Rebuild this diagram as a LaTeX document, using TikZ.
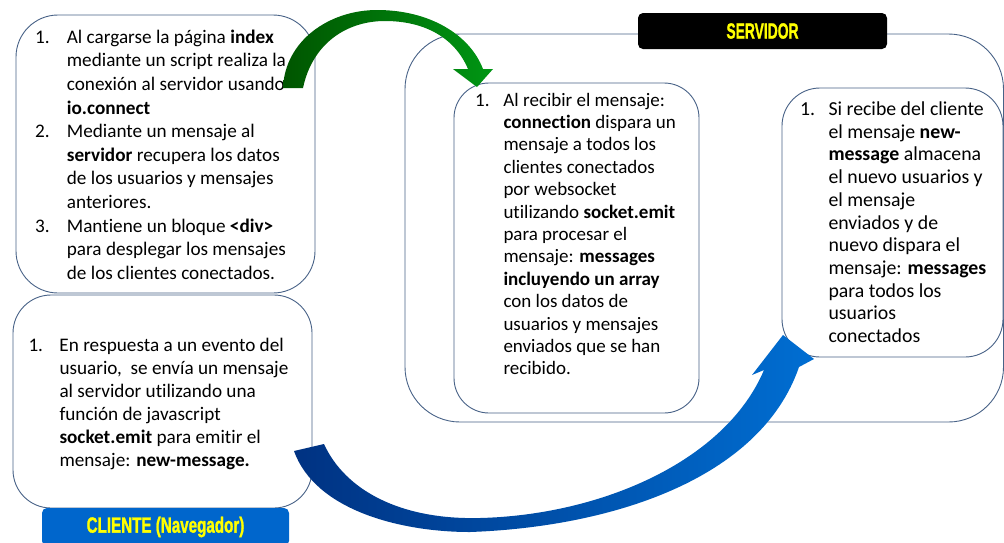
\documentclass[tikz,border=0pt]{standalone}
\usepackage{fontspec}
\usepackage{graphicx}
\setmainfont{Carlito}[Ligatures=NoCommon]
\newfontfamily\lblfont{Liberation Sans}[BoldFeatures={FakeBold=1.5}]

\definecolor{boxline}{RGB}{72,98,135}
\definecolor{cliblue}{RGB}{0,102,204}
\definecolor{lblyellow}{RGB}{255,255,0}
\definecolor{greenL}{RGB}{0,85,0}
\definecolor{greenR}{RGB}{0,150,20}
\definecolor{blueL}{RGB}{0,50,130}
\definecolor{blueM}{RGB}{0,80,170}
\definecolor{blueR}{RGB}{0,110,210}

% hanging indent of the numbered lists
\newlength\hang
\newcommand\nm[1]{\makebox[\hang][l]{#1}}
\newcommand\gap{\hspace*{\hang}}

\begin{document}
\begin{tikzpicture}[x=1pt,y=-1pt,
  panel/.style={draw=boxline, line width=0.9pt, fill=white,
    rounded corners=#1, inner sep=0pt},
  panel/.default=40pt,
  tag/.style={rounded corners=5pt, inner sep=0pt,
    font=\lblfont\bfseries\fontsize{22}{22}\selectfont, text=lblyellow},
  listtext/.style={anchor=base west, inner sep=0pt, align=left}]

\clip (0,0) rectangle (1004,542);

% server area and its two panels
\node[panel=55pt, minimum width=598.5pt, minimum height=388pt] (srv) at (704.25,228) {};
\node[panel=35pt, minimum width=245pt, minimum height=330pt] (conn) at (576.5,248) {};
\node[panel=38pt, minimum width=221pt, minimum height=269pt] (newmsg) at (892.5,222.5) {};

% client panels
\node[panel=42pt, minimum width=299pt, minimum height=278pt] (load) at (165.5,154) {};
\node[panel=38pt, minimum width=299pt, minimum height=213pt] (event) at (162.5,401.5) {};

% titles
\node[tag, fill=cliblue, minimum width=247pt, minimum height=38pt] (cli) at (165.5,527)
  {\scalebox{0.69}[1]{CLIENTE (Navegador)}};
\node[tag, fill=black, minimum width=249pt, minimum height=36pt] (srvtag) at (762.5,31)
  {\scalebox{0.63}[1]{SERVIDOR}};

% list texts
\node[listtext] (tload) at (35,43.3) {\fontsize{19.2}{23.6}\selectfont\setlength\hang{31.7pt}%
  \begin{tabular}[t]{@{}l@{}}
  \nm{1.}Al cargarse la página \textbf{index}\\
  \gap mediante un script realiza la\\
  \gap conexión al servidor usando\\
  \gap\textbf{io.connect}\\
  \nm{2.}Mediante un mensaje al\\
  \gap\textbf{servidor} recupera los datos\\
  \gap de los usuarios y mensajes\\
  \gap anteriores.\\
  \nm{3.}Mantiene un bloque \textbf{<div>}\\
  \gap para desplegar los mensajes\\
  \gap de los clientes conectados.
  \end{tabular}};

\node[listtext] (tevent) at (28.3,351.7) {\fontsize{19.2}{23}\selectfont\setlength\hang{31pt}%
  \begin{tabular}[t]{@{}l@{}}
  \nm{1.}En respuesta a un evento del\\
  \gap usuario,\ \ se envía un mensaje\\
  \gap al servidor utilizando una\\
  \gap función de javascript\\
  \gap\textbf{socket.emit} para emitir el\\
  \gap mensaje: \textbf{new-message.}
  \end{tabular}};

\node[listtext] (tconn) at (475,106) {\fontsize{19}{22.4}\selectfont\setlength\hang{28.3pt}%
  \begin{tabular}[t]{@{}l@{}}
  \nm{1.}Al recibir el mensaje:\\
  \gap\textbf{connection} dispara un\\
  \gap mensaje a todos los\\
  \gap clientes conectados\\
  \gap por websocket\\
  \gap utilizando \textbf{socket.emit}\\
  \gap para procesar el\\
  \gap mensaje: \textbf{messages}\\
  \gap\textbf{incluyendo un array}\\
  \gap con los datos de\\
  \gap usuarios y mensajes\\
  \gap enviados que se han\\
  \gap recibido.
  \end{tabular}};

\node[listtext] (tnewmsg) at (800,115.5) {\fontsize{19.8}{22.7}\selectfont\setlength\hang{28.3pt}%
  \begin{tabular}[t]{@{}l@{}}
  \nm{1.}Si recibe del cliente\\
  \gap el mensaje \textbf{new-}\\
  \gap\textbf{message} almacena\\
  \gap el nuevo usuarios y\\
  \gap el mensaje\\
  \gap enviados y de\\
  \gap nuevo dispara el\\
  \gap mensaje: \textbf{messages}\\
  \gap para todos los\\
  \gap usuarios\\
  \gap conectados
  \end{tabular}};

% curved arrow: client page load -> server connection
\shade[left color=greenL, right color=greenR]
  (283,88) .. controls (285,40) and (330,10) .. (377,10)
  .. controls (430,10) and (470,35) .. (483,69)
  -- (493,69) -- (477,87) -- (453,69) -- (468,69)
  .. controls (455,38) and (425,21) .. (385,21)
  .. controls (345,21) and (312,45) .. (303,88) -- cycle;

% curved arrow: client event -> server new-message handler
\shade[left color=blueL, middle color=blueM, right color=blueR]
  (294,451) .. controls (315,510) and (400,532) .. (470,532)
  .. controls (610,527) and (760,480) .. (799,367)
  -- (814,359) -- (783,335) -- (752,375) -- (764,370)
  .. controls (725,462) and (600,515) .. (480,518)
  .. controls (400,520) and (345,490) .. (324,444) -- cycle;

\end{tikzpicture}
\end{document}
